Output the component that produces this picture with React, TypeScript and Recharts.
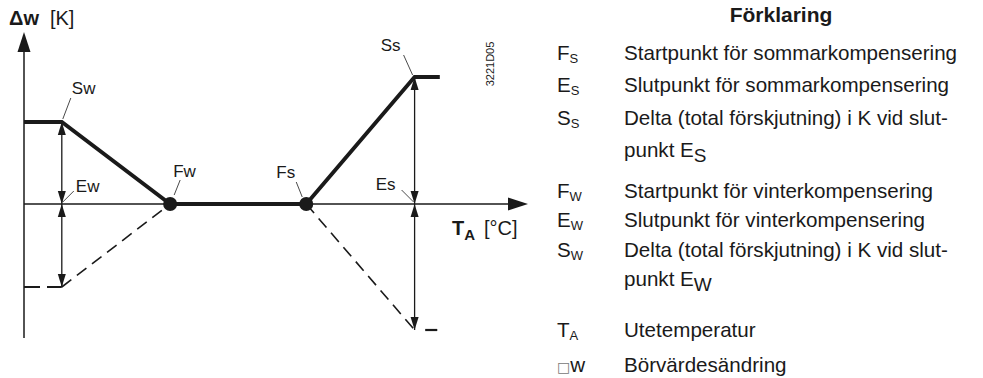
import { ComposedChart, Line, Scatter, ReferenceLine, XAxis, YAxis } from 'recharts'

// horizontal: outdoor temperature units (0 = vertical axis), vertical: setpoint shift (0 = T_A axis)
const curveX = [0, 7.5, 29, 56, 77.5, 82.5]
const curveY = [8.2, 8.2, 0, 0, 12.7, 12.7]
const winterDashX = [7.5, 29]
const winterDashY = [-8.3, 0]
const summerDashX = [56, 77.5]
const summerDashY = [0, -12.6]
const winterStubX = [0, 7.5]
const summerStubX = [79.6, 82]
const breakX = [29, 56]

const pointNames = ['Sw', 'Ew', 'Fw', 'Fs', 'Es', 'Ss']
const pointX = [7.5, 7.5, 29, 56, 77.5, 77.5]
const pointY = [8.2, 0, 0, 0, 0, 12.7]

const dimX = [7.5, 77.5]
const dimTop = [8.2, 12.7]
const dimBottom = [-8.3, -12.6]

const legendKeys = ['F', 'E', 'S', '', 'F', 'E', 'S', '', 'T', '□w']
const legendSubs = ['S', 'S', 'S', '', 'W', 'W', 'W', '', 'A', '']
const legendTexts = [
  'Startpunkt för sommarkompensering',
  'Slutpunkt för sommarkompensering',
  'Delta (total förskjutning) i K vid slut-',
  'punkt E',
  'Startpunkt för vinterkompensering',
  'Slutpunkt för vinterkompensering',
  'Delta (total förskjutning) i K vid slut-',
  'punkt E',
  'Utetemperatur',
  'Börvärdesändring',
]
const legendTextSubs = ['', '', '', 'S', '', '', '', 'W', '', '']
const legendRowY = [53, 85, 118, 150, 191, 220, 250, 279, 330, 365]

const FONT = '"Liberation Sans", Arial, Helvetica, sans-serif'
const INK = '#1a1a1a'

// leader line [x1, y1, x2, y2] and text position, px relative to the point
const labelStyle: Record<string, { line: number[]; tx: number; ty: number; anchor: 'start' | 'end' }> = {
  Sw: { line: [1, -3, 9, -24], tx: 10, ty: -34, anchor: 'start' },
  Ew: { line: [1, -2, 12, -13], tx: 14, ty: -18, anchor: 'start' },
  Fw: { line: [4, -9, 10, -24], tx: 3, ty: -33, anchor: 'start' },
  Fs: { line: [-4, -7, -10, -22], tx: -11, ty: -32, anchor: 'end' },
  Es: { line: [-1, -2, -13, -14], tx: -19, ty: -20, anchor: 'end' },
  Ss: { line: [-2, -2, -11, -22], tx: -14, ty: -32, anchor: 'end' },
}

const toPoints = (xs: number[], ys: number[]) => xs.map((x, i) => ({ x, y: ys[i] }))

const curve = toPoints(curveX, curveY)
const winterDash = toPoints(winterDashX, winterDashY)
const summerDash = toPoints(summerDashX, summerDashY)
const winterStub = toPoints(winterStubX, [winterDashY[0], winterDashY[0]])
const summerStub = toPoints(summerStubX, [summerDashY[1], summerDashY[1]])
const breaks = breakX.map((x) => ({ x, y: 0 }))
const points = pointNames.map((name, i) => ({ name, x: pointX[i], y: pointY[i] }))

const dimHeads = dimX.flatMap((x, i) => [
  { x, y: dimTop[i], dir: 'up' },
  { x, y: 0, dir: 'down' },
  { x, y: 0, dir: 'up' },
  { x, y: dimBottom[i], dir: 'down' },
])
const axisHeads = [
  { x: 0, y: 17.2, dir: 'up' },
  { x: 100, y: 0, dir: 'right' },
]

function arrowHead(len: number, half: number) {
  return (props: any) => {
    const { cx, cy, payload } = props
    let d = ''
    if (payload.dir === 'up') d = `M${cx},${cy} L${cx - half},${cy + len} L${cx + half},${cy + len} Z`
    else if (payload.dir === 'down') d = `M${cx},${cy} L${cx - half},${cy - len} L${cx + half},${cy - len} Z`
    else d = `M${cx},${cy} L${cx - len},${cy - half} L${cx - len},${cy + half} Z`
    return <path d={d} fill={INK} />
  }
}

function PointLabel(props: any) {
  const { cx, cy, payload } = props
  const s = labelStyle[payload.name]
  const [x1, y1, x2, y2] = s.line
  return (
    <g>
      <line x1={cx + x1} y1={cy + y1} x2={cx + x2} y2={cy + y2} stroke={INK} strokeWidth={0.8} />
      <text
        x={cx + s.tx}
        y={cy + s.ty}
        textAnchor={s.anchor}
        dominantBaseline="central"
        fontSize={17}
        fontFamily={FONT}
        fill={INK}
      >
        {payload.name}
      </text>
    </g>
  )
}

export default function App() {
  return (
    <div style={{ position: 'absolute', left: 0, top: 0, width: 983, height: 378, fontFamily: FONT, color: INK, background: '#fff' }}>
      <ComposedChart width={983} height={378} margin={{ top: 32, right: 455, bottom: 40, left: 24 }}>
        <XAxis type="number" dataKey="x" domain={[0, 100]} hide />
        <YAxis type="number" dataKey="y" domain={[-13.4, 17.2]} hide />

        {/* axes */}
        <ReferenceLine segment={[{ x: 0, y: -13.4 }, { x: 0, y: 15.5 }]} stroke={INK} strokeWidth={1.5} ifOverflow="visible" />
        <ReferenceLine segment={[{ x: 0, y: 0 }, { x: 97, y: 0 }]} stroke={INK} strokeWidth={1.5} ifOverflow="visible" />

        {/* dimension lines */}
        {dimX.map((x, i) => (
          <ReferenceLine key={x} segment={[{ x, y: dimTop[i] }, { x, y: dimBottom[i] }]} stroke={INK} strokeWidth={1.3} ifOverflow="visible" />
        ))}

        <Line data={winterDash} dataKey="y" stroke={INK} strokeWidth={1.6} strokeDasharray="12 7" dot={false} isAnimationActive={false} />
        <Line data={summerDash} dataKey="y" stroke={INK} strokeWidth={1.6} strokeDasharray="12 7" dot={false} isAnimationActive={false} />
        <Line data={winterStub} dataKey="y" stroke={INK} strokeWidth={2.2} strokeDasharray="16 7" dot={false} isAnimationActive={false} />
        <Line data={summerStub} dataKey="y" stroke={INK} strokeWidth={2.2} dot={false} isAnimationActive={false} />
        <Line data={curve} dataKey="y" stroke={INK} strokeWidth={3.8} strokeLinejoin="miter" dot={false} isAnimationActive={false} />

        <Scatter data={dimHeads} dataKey="y" shape={arrowHead(13, 4)} isAnimationActive={false} />
        <Scatter data={axisHeads} dataKey="y" shape={arrowHead(20, 6.5)} isAnimationActive={false} />
        <Scatter data={breaks} dataKey="y" fill={INK} shape={(p: any) => <circle cx={p.cx} cy={p.cy} r={7} fill={INK} />} isAnimationActive={false} />
        <Scatter data={points} dataKey="y" shape={PointLabel} isAnimationActive={false} />
      </ComposedChart>

      {/* axis titles */}
      <div style={{ position: 'absolute', left: 9, top: 6, fontSize: 20, lineHeight: '24px', whiteSpace: 'nowrap' }}>
        <b>Δw</b>
        <span style={{ marginLeft: 11 }}>[K]</span>
      </div>
      <div style={{ position: 'absolute', left: 452, top: 216, fontSize: 20, lineHeight: '24px', whiteSpace: 'nowrap' }}>
        <b>T</b>
        <b style={{ fontSize: 15, position: 'relative', top: 5 }}>A</b>
        <span style={{ marginLeft: 9 }}>[°C]</span>
      </div>
      <div
        style={{
          position: 'absolute',
          left: 490,
          top: 64,
          fontSize: 11,
          transform: 'translate(-50%, -50%) rotate(-90deg)',
          whiteSpace: 'nowrap',
          lineHeight: '12px',
        }}
      >
        3221D05
      </div>

      {/* legend */}
      <div style={{ position: 'absolute', left: 700, width: 162, top: 3, fontSize: 21, lineHeight: '24px', fontWeight: 'bold', textAlign: 'center' }}>
        Förklaring
      </div>
      {legendTexts.map((t, i) => (
        <div key={i} style={{ position: 'absolute', top: legendRowY[i] - 12, left: 0, fontSize: 20.6, lineHeight: '24px', whiteSpace: 'nowrap' }}>
          <span style={{ position: 'absolute', left: 557 }}>
            {legendKeys[i] === '□w' ? (
              <span>
                <span style={{ fontFamily: '"DejaVu Sans"', fontSize: 14, color: '#777' }}>□</span>w
              </span>
            ) : (
              legendKeys[i]
            )}
            <span style={{ fontSize: 13, position: 'relative', top: 3 }}>{legendSubs[i]}</span>
          </span>
          <span style={{ position: 'absolute', left: 624 }}>
            {t}
            <span style={{ fontSize: 19, position: 'relative', top: 5 }}>{legendTextSubs[i]}</span>
          </span>
        </div>
      ))}
    </div>
  )
}
